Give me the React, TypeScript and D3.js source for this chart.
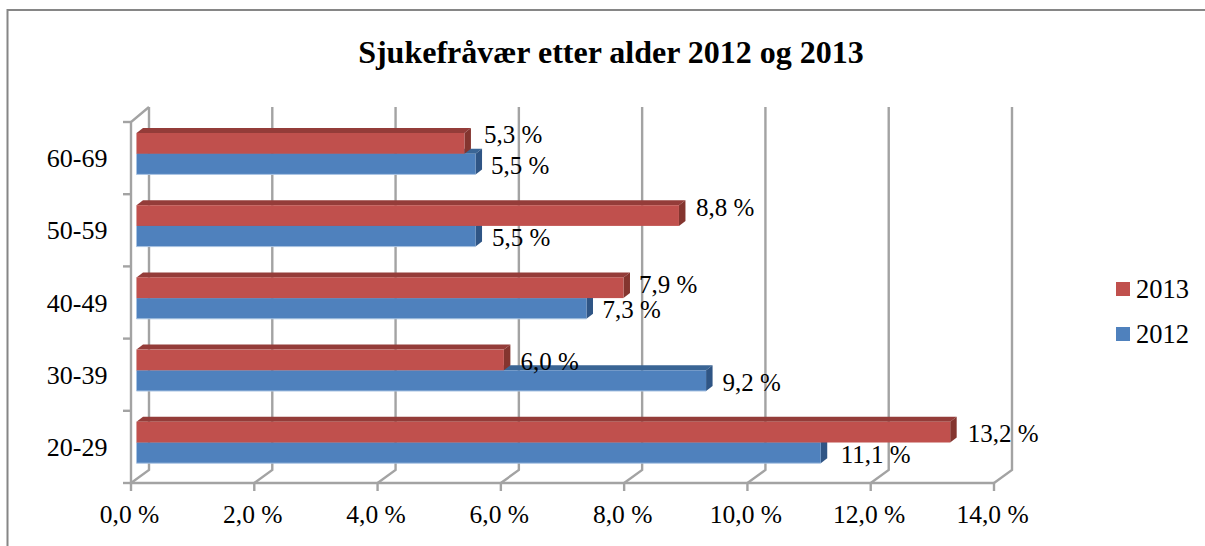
import * as d3 from 'd3';

const categories = ['20-29', '30-39', '40-49', '50-59', '60-69'];
const series2012 = [11.1, 9.24, 7.3, 5.5, 5.5];
const series2013 = [13.2, 5.96, 7.9, 8.8, 5.32];
const xTicks = [0, 2, 4, 6, 8, 10, 12, 14];
const seriesNames = ['2013', '2012'];

// hand-placed data labels in the original: [dx, dy] from the end of each bar
const labelNudge2012 = [[20, 2], [16.5, 2], [16, 1.5], [16.5, 1.5], [15.5, 1.5]];
const labelNudge2013 = [[17.5, 2], [16.5, 2], [15.5, -3], [17, -7.5], [19.5, -8]];

const fontFamily = '"Liberation Serif", "Times New Roman", serif';
const gridColor = '#a3a3a3';
const frameColor = '#868686';

const colors = {
  '2013': { front: '#c0504d', top: '#943c39', side: '#84352f', edge: '#d9a09e' },
  '2012': { front: '#4f81bd', top: '#3a6595', side: '#2f5585', edge: '#a9c3e2' },
};

const width = 1205;
const height = 546;

// 3D depth of the plot box
const depthX = 18;
const depthY = 14;
const axisBottom = 483;
const axisTop = 122;

const x = d3.scaleLinear().domain([0, 14]).range([131, 994]);
const y = d3.scaleBand().domain(categories).range([axisBottom, axisTop]);

// bars sit a bit into the box
const barX = (v: number) => x(v) + 5.5;
const barDepthX = 6.5;
const barDepthY = 5;
const barHeight = 20.7;
const barOffset = 11;

const pct = (v: number) => `${d3.format('.1f')(v).replace('.', ',')} %`;

const Bar = ({ value, top, c, rimBottom }: { value: number; top: number; c: typeof colors['2012']; rimBottom: boolean }) => {
  const x0 = barX(0);
  const x1 = barX(value);
  const bottom = top + barHeight;
  const dx = barDepthX;
  const dy = barDepthY;
  return (
    <g>
      <path d={`M${x0},${top}L${x0 + dx},${top - dy}L${x1 + dx},${top - dy}L${x1},${top}Z`} fill={c.top} />
      <path d={`M${x1},${top}L${x1 + dx},${top - dy}L${x1 + dx},${bottom - dy}L${x1},${bottom}Z`} fill={c.side} />
      <rect x={x0} y={top} width={x1 - x0} height={barHeight} fill={c.front} />
      {/* soft light rim on the front face, no line between the two stacked bars */}
      <path d={`M${x0},${top}V${bottom}${rimBottom ? `H${x1}` : ''}`} fill="none" stroke={c.edge} strokeWidth={1} />
    </g>
  );
};

export default function App() {
  const line = { stroke: gridColor, strokeWidth: 2.4, fill: 'none' };
  return (
    <svg
      width={width}
      height={height}
      style={{ position: 'absolute', left: 0, top: 0, background: '#fff' }}
      fontFamily={fontFamily}
    >
      {/* chart frame, cropped on the right and bottom */}
      <path d={`M${width},10H7.5V${height}`} fill="none" stroke={frameColor} strokeWidth={2} />

      <text x={611} y={63} textAnchor="middle" fontSize={32} fontWeight="bold" fill="#000">
        Sjukefråvær etter alder 2012 og 2013
      </text>

      {/* back wall gridlines with the diagonal floor legs */}
      {xTicks.map((t) => (
        <g key={t}>
          <path
            {...line}
            d={`M${x(t) + depthX},${axisTop - 15}V${axisBottom - depthY + 1}L${x(t)},${axisBottom}`}
          />
          <line {...line} x1={x(t)} x2={x(t)} y1={axisBottom} y2={axisBottom + 8} />
          <text x={x(t) - 1.5} y={523} textAnchor="middle" fontSize={25.5} fill="#000">
            {pct(t)}
          </text>
        </g>
      ))}

      {/* front axes */}
      <path {...line} d={`M${x(14)},${axisBottom}H${x(0)}V${axisTop}L${x(0) + depthX},${axisTop - 15}`} />
      {d3.range(categories.length + 1).map((i) => {
        const ty = axisBottom - i * y.step();
        return <line key={i} {...line} x1={123} x2={x(0)} y1={ty} y2={ty} />;
      })}

      {categories.map((cat, i) => {
        const band = y(cat) as number;
        const redTop = band + barOffset;
        const blueTop = redTop + barHeight;
        return (
          <g key={cat}>
            <text x={107.5} y={band + y.bandwidth() / 2 + 9} textAnchor="end" fontSize={26} fill="#000">
              {cat}
            </text>
            <Bar value={series2012[i]} top={blueTop} c={colors['2012']} rimBottom={true} />
            <Bar value={series2013[i]} top={redTop} c={colors['2013']} rimBottom={false} />
          </g>
        );
      })}

      {/* data labels go on top of everything */}
      {categories.map((cat, i) => {
        const band = y(cat) as number;
        const redMid = band + barOffset + barHeight / 2;
        const blueMid = redMid + barHeight;
        return (
          <g key={cat} fontSize={25} fill="#000">
            <text x={barX(series2013[i]) + labelNudge2013[i][0]} y={redMid + 8 + labelNudge2013[i][1]}>
              {pct(series2013[i])}
            </text>
            <text x={barX(series2012[i]) + labelNudge2012[i][0]} y={blueMid + 8 + labelNudge2012[i][1]}>
              {pct(series2012[i])}
            </text>
          </g>
        );
      })}

      {/* legend */}
      {seriesNames.map((name, i) => (
        <g key={name}>
          <rect x={1116} y={282 + i * 45} width={14} height={14} fill={colors[name as '2012'].front} />
          <text x={1136} y={298 + i * 45} fontSize={26.5} fill="#000">
            {name}
          </text>
        </g>
      ))}
    </svg>
  );
}
